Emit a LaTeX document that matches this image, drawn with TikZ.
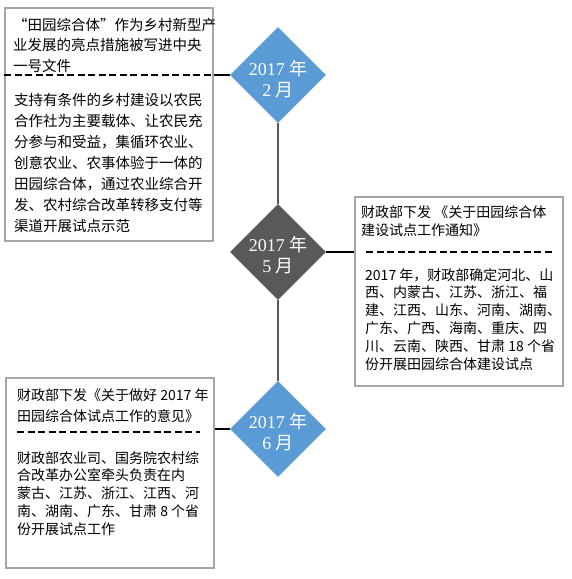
\documentclass[tikz,border=0pt]{standalone}
\usepackage{fontspec}
\setmainfont{Liberation Serif}
\newfontfamily\cjk{Noto Sans CJK SC}
\usepackage{tikz}
\usetikzlibrary{shapes,calc}
\definecolor{dateblue}{HTML}{5B9BD5}
\definecolor{dategray}{HTML}{595959}
\definecolor{boxgray}{HTML}{A6A6A6}
\tikzstyle{infobox}=[rectangle, draw=boxgray, line width=2pt,% plain frame round each note
inner sep=0pt, anchor=north west]
\tikzstyle{infotxt}=[anchor=north west, inner sep=0pt, align=left]
\tikzstyle{datebox}=[diamond, minimum width=96pt, minimum height=96pt, inner sep=0pt]
\tikzstyle{datetxt}=[text=white, align=center, font=\fontsize{18}{21}\selectfont]
\tikzstyle{dashsep}=[dash pattern=on 7pt off 3.5pt, line width=1.2pt]
\tikzstyle{joinline}=[line width=1.5pt]
\tikzstyle{timeline}=[draw=dategray, line width=2pt]

\begin{document}
\begin{tikzpicture}[x=1pt,y=-1pt]
\useasboundingbox (0,0) rectangle (571,579);
% frames
\node[infobox, minimum width=208pt, minimum height=233pt] (box1) at (4,7) {};
\node[infobox, minimum width=208pt, minimum height=189pt] (box2) at (354,196) {};
\node[infobox, minimum width=208pt, minimum height=190pt] (box3) at (5,377) {};
% dates
\node[datebox, fill=dateblue] (d1) at (278,75) {};
\node[datebox, fill=dategray] (d2) at (278,252) {};
\node[datebox, fill=dateblue] (d3) at (278,429) {};
\node[datetxt] (t1) at (278,79) {2017 {\cjk 年}\\2 {\cjk 月}};
\node[datetxt] (t2) at (278,255) {2017 {\cjk 年}\\5 {\cjk 月}};
\node[datetxt] (t3) at (278,432) {2017 {\cjk 年}\\6 {\cjk 月}};
\draw[timeline] (d1.south) -- (d2.north);
\draw[timeline] (d2.south) -- (d3.north);
\draw[joinline] (d1.west) -- (d1.west -| box1.east);
\draw[joinline] (d2.east) -- (d2.east -| box2.west);
\draw[joinline] (d3.west) -- (d3.west -| box3.east);
% texts
\node[infotxt, font=\cjk\fontsize{14.5}{20.5}\selectfont] (n1a) at (13,18)
{“田园综合体”作为乡村新型产\\业发展的亮点措施被写进中央\\一号文件};
\node[infotxt, font=\cjk\fontsize{14.5}{21}\selectfont] (n1b) at (14,93)
{支持有条件的乡村建设以农民\\合作社为主要载体、让农民充\\分参与和受益，集循环农业、\\创意农业、农事体验于一体的\\田园综合体，通过农业综合开\\发、农村综合改革转移支付等\\渠道开展试点示范};
\node[infotxt, font=\cjk\fontsize{14}{18}\selectfont] (n2a) at (361,205)
{财政部下发 《关于田园综合体\\建设试点工作通知》};
\node[infotxt, font=\cjk\fontsize{14}{17.8}\selectfont] (n2b) at (365,268)
{2017 年，财政部确定河北、山\\西、内蒙古、江苏、浙江、福\\建、江西、山东、河南、湖南、\\广东、广西、海南、重庆、四\\川、云南、陕西、甘肃 18 个省\\份开展田园综合体建设试点};
\node[infotxt, font=\cjk\fontsize{14}{21}\selectfont] (n3a) at (17,388)
{财政部下发《关于做好 2017 年\\田园综合体试点工作的意见》};
\node[infotxt, font=\cjk\fontsize{14}{17.8}\selectfont] (n3b) at (17,451)
{财政部农业司、国务院农村综\\合改革办公室牵头负责在内\\蒙古、江苏、浙江、江西、河\\南、湖南、广东、甘肃 8 个省\\份开展试点工作};
% dashed rules
\draw[dashsep] (box1.west |- d1) -- (box1.east |- d1);
\draw[dashsep] (366,252) -- (555,252);
\draw[dashsep] (17,432) -- (200,432);
\end{tikzpicture}
\end{document}
